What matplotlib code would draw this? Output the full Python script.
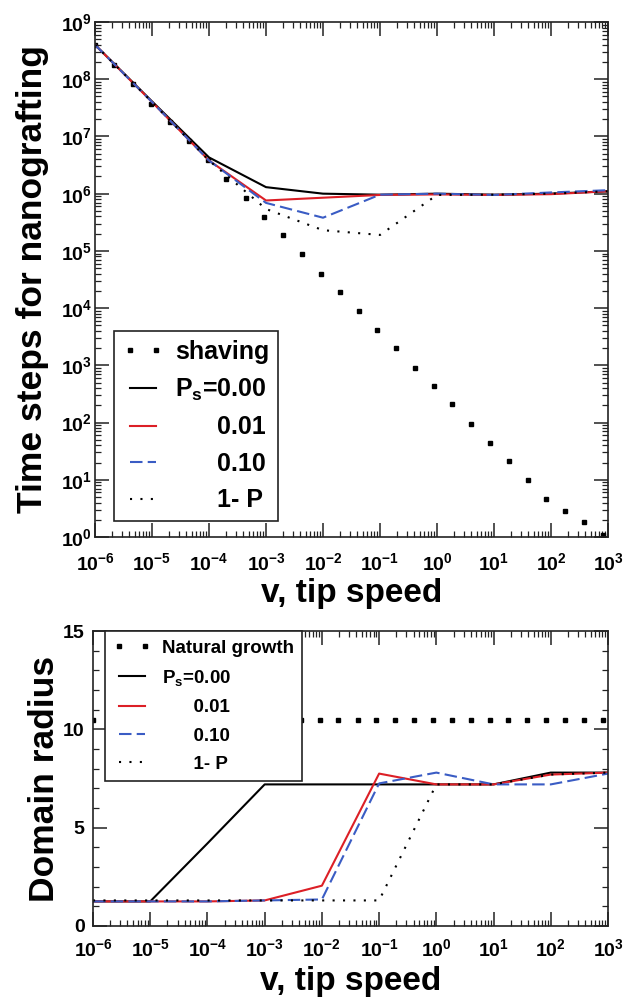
import matplotlib
matplotlib.use("Agg")
import matplotlib.pyplot as plt
from matplotlib.ticker import LogLocator, MultipleLocator, NullFormatter

plt.rcParams['font.family'] = ['Liberation Sans', 'DejaVu Sans']
plt.rcParams['font.weight'] = 'bold'
plt.rcParams['mathtext.fontset'] = 'custom'
plt.rcParams['mathtext.rm'] = 'Liberation Sans:bold'
plt.rcParams['mathtext.bf'] = 'Liberation Sans:bold'
plt.rcParams['mathtext.it'] = 'Liberation Sans:bold'
plt.rcParams['mathtext.default'] = 'rm'

# ---------------- data ----------------
v_fine = [1e-6, 2.14e-6, 4.57e-6, 9.8e-6, 2.1e-5, 4.5e-5, 9.5e-5, 2.0e-4, 4.4e-4,
          9.3e-4, 2.0e-3, 4.3e-3, 9.1e-3, 1.95e-2, 4.2e-2, 8.9e-2, 0.19, 0.41, 0.87,
          1.86, 4.0, 8.5, 18, 39, 83, 178, 380, 813]
shaving = [4e8, 1.8e8, 8.3e7, 3.7e7, 1.8e7, 8.2e6, 3.8e6, 1.8e6, 8.5e5, 3.9e5,
           1.9e5, 8.7e4, 4e4, 1.9e4, 9e3, 4.2e3, 2e3, 9.1e2, 4.3e2, 2.1e2, 95, 44,
           21, 10, 4.7, 2.9, 1.8, 1.1]
natural = [10.5] * len(v_fine)

v = [1e-6, 1e-5, 1e-4, 1e-3, 1e-2, 1e-1, 1, 10, 100, 1000]
t_ps000 = [4e8, 4.1e7, 4.3e6, 1.3e6, 1.0e6, 9.6e5, 1.0e6, 9.6e5, 1.0e6, 1.1e6]
t_ps001 = [4e8, 4e7, 3.8e6, 7.6e5, 8.5e5, 9.5e5, 9.7e5, 9.5e5, 9.8e5, 1.1e6]
t_ps010 = [4e8, 4e7, 3.8e6, 6.9e5, 3.8e5, 9.6e5, 1.0e6, 9.5e5, 1.05e6, 1.15e6]
t_1mp = [4e8, 4e7, 3.8e6, 5.4e5, 2.3e5, 1.9e5, 9.5e5, 9.6e5, 1.0e6, 1.1e6]

r_ps000 = [1.25, 1.25, 4.2, 7.2, 7.2, 7.2, 7.2, 7.2, 7.8, 7.8]
r_ps001 = [1.25, 1.25, 1.25, 1.3, 2.05, 7.75, 7.2, 7.2, 7.7, 7.8]
r_ps010 = [1.25, 1.25, 1.25, 1.3, 1.35, 7.25, 7.8, 7.2, 7.2, 7.75]
r_1mp = [1.3, 1.3, 1.3, 1.3, 1.3, 1.3, 7.2, 7.2, 7.7, 7.8]

labels_top = ["shaving", r"P$_{s}$=0.00", "      0.01", "      0.10", "      1- P"]
labels_bot = ["Natural growth", r"P$_{s}$=0.00", "      0.01", "      0.10", "      1- P"]

RED = '#dc1f26'
BLUE = '#3a5cc4'
LW = 1.5
dash_style = (0, (6, 2.5))
dot_style = (0, (1, 4))

fig = plt.figure(figsize=(6.26, 9.98), dpi=100)
ax1 = fig.add_axes([95/626, 1-537/998, 513/626, 515/998])
ax2 = fig.add_axes([93/626, 1-926/998, 515/626, 295/998])


def style_axes(ax):
    for s in ax.spines.values():
        s.set_linewidth(1.2)
        s.set_color('#222222')
    ax.tick_params(which='both', direction='in', top=True, right=True,
                   labelsize=14, color='#222222')
    ax.tick_params(which='major', length=10, width=1.1)
    ax.tick_params(which='minor', length=4.5, width=0.9)


# ---------------- top panel ----------------
ax1.plot(v_fine, shaving, linestyle='none', marker='s', markersize=3.2,
         color='black', label=labels_top[0])
ax1.plot(v, t_ps000, color='black', lw=LW, label=labels_top[1])
ax1.plot(v, t_ps001, color=RED, lw=LW, label=labels_top[2])
ax1.plot(v, t_ps010, color=BLUE, lw=LW, linestyle=dash_style, label=labels_top[3])
ax1.plot(v, t_1mp, color='black', lw=LW, linestyle=dot_style, label=labels_top[4])
ax1.set_xscale('log')
ax1.set_yscale('log')
ax1.set_xlim(1e-6, 1e3)
ax1.set_ylim(1e0, 1e9)
ax1.xaxis.set_major_locator(LogLocator(base=10, numticks=20))
ax1.yaxis.set_major_locator(LogLocator(base=10, numticks=20))
ax1.xaxis.set_minor_locator(LogLocator(base=10, subs=range(2, 10), numticks=100))
ax1.yaxis.set_minor_locator(LogLocator(base=10, subs=range(2, 10), numticks=100))
ax1.xaxis.set_minor_formatter(NullFormatter())
ax1.yaxis.set_minor_formatter(NullFormatter())
style_axes(ax1)
ax1.tick_params(axis='y', which='both', pad=2)
ax1.tick_params(axis='x', which='both', pad=11)
ax1.set_xlabel("v, tip speed", fontsize=24, fontweight='bold', labelpad=3)
ax1.set_ylabel("Time steps for nanografting", fontsize=25.5, fontweight='bold')
ax1.yaxis.set_label_coords(-0.09, 0.5)

leg1 = ax1.legend(loc='lower left', bbox_to_anchor=(0.037, 0.031), borderaxespad=0,
                  fancybox=False, framealpha=1, edgecolor='#222222', numpoints=2,
                  prop={'weight': 'bold', 'size': 18}, handlelength=1.65,
                  handletextpad=0.45, labelspacing=0.5, borderpad=0.35)
leg1.get_frame().set_linewidth(1.2)

# ---------------- bottom panel ----------------
ax2.plot(v_fine, natural, linestyle='none', marker='s', markersize=3.2,
         color='black', label=labels_bot[0])
ax2.plot(v, r_ps000, color='black', lw=LW, label=labels_bot[1])
ax2.plot(v, r_ps001, color=RED, lw=LW, label=labels_bot[2])
ax2.plot(v, r_ps010, color=BLUE, lw=LW, linestyle=dash_style, label=labels_bot[3])
ax2.plot(v, r_1mp, color='black', lw=LW, linestyle=dot_style, label=labels_bot[4])
ax2.set_xscale('log')
ax2.set_xlim(1e-6, 1e3)
ax2.set_ylim(0, 15)
ax2.xaxis.set_major_locator(LogLocator(base=10, numticks=20))
ax2.xaxis.set_minor_locator(LogLocator(base=10, subs=range(2, 10), numticks=100))
ax2.xaxis.set_minor_formatter(NullFormatter())
ax2.yaxis.set_major_locator(MultipleLocator(5))
ax2.yaxis.set_minor_locator(MultipleLocator(1))
style_axes(ax2)
ax2.tick_params(axis='y', which='both', pad=6)
ax2.tick_params(axis='x', which='both', pad=9)
ax2.set_xlabel("v, tip speed", fontsize=24, fontweight='bold', labelpad=4)
ax2.set_ylabel("Domain radius", fontsize=25.5, fontweight='bold')
ax2.yaxis.set_label_coords(-0.062, 0.5)

leg2 = ax2.legend(loc='upper left', bbox_to_anchor=(0.023, 1.0), borderaxespad=0,
                  fancybox=False, framealpha=1, edgecolor='#222222', numpoints=2,
                  prop={'weight': 'bold', 'size': 13.5}, handlelength=2.0,
                  handletextpad=0.6, labelspacing=0.6, borderpad=0.45)
leg2.get_frame().set_linewidth(1.2)

fig.savefig("out.png", dpi=100)
